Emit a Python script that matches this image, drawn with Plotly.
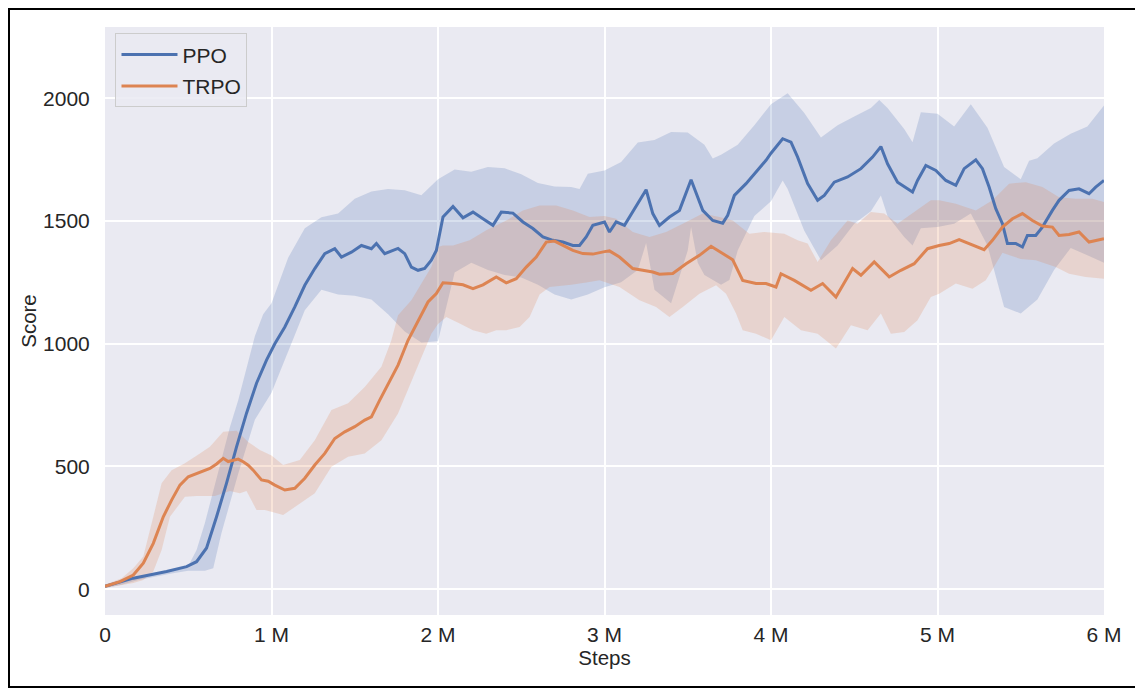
import plotly.graph_objects as go

# steps are in millions
ppo_x = [0, 0.17, 0.37, 0.49, 0.55, 0.61, 0.67, 0.73, 0.79, 0.85, 0.91, 0.97, 1.02, 1.08,
         1.14, 1.20, 1.26, 1.32, 1.38, 1.42, 1.48, 1.54, 1.60, 1.63, 1.68, 1.76, 1.80, 1.84,
         1.88, 1.92, 1.96, 1.99, 2.03, 2.09, 2.15, 2.21, 2.27, 2.33, 2.38, 2.45, 2.51, 2.57,
         2.63, 2.69, 2.75, 2.81, 2.85, 2.89, 2.93, 3.00, 3.03, 3.07, 3.12, 3.19, 3.25, 3.29,
         3.33, 3.39, 3.45, 3.52, 3.56, 3.59, 3.65, 3.71, 3.74, 3.78, 3.85, 3.91, 3.97, 4.00,
         4.07, 4.12, 4.16, 4.22, 4.28, 4.32, 4.38, 4.46, 4.54, 4.61, 4.66, 4.70, 4.76, 4.85,
         4.88, 4.93, 4.99, 5.05, 5.11, 5.16, 5.23, 5.27, 5.31, 5.35, 5.39, 5.42, 5.47, 5.51,
         5.54, 5.59, 5.63, 5.69, 5.73, 5.79, 5.85, 5.91, 5.95, 6.0]
ppo_mean = [12, 45, 72, 92, 112, 168, 295, 432, 580, 717, 839, 933, 1000, 1068,
            1150, 1238, 1306, 1367, 1387, 1353, 1373, 1400, 1387, 1408, 1367, 1388, 1367, 1312,
            1299, 1307, 1340, 1380, 1516, 1559, 1513, 1536, 1509, 1482, 1536, 1532, 1496, 1469,
            1435, 1421, 1414, 1400, 1400, 1435, 1482, 1496, 1455, 1496, 1482, 1563, 1627, 1530,
            1482, 1516, 1543, 1668, 1597, 1543, 1502, 1491, 1523, 1604, 1652, 1699, 1747, 1776,
            1835, 1821, 1760, 1652, 1584, 1604, 1658, 1679, 1713, 1760, 1803, 1733, 1658, 1618,
            1665, 1726, 1706, 1665, 1645, 1713, 1749, 1713, 1638, 1550, 1489, 1408, 1408, 1394,
            1441, 1441, 1475, 1543, 1584, 1624, 1631, 1611, 1638, 1665]

ppo_upper_x = [0, 0.1, 0.2, 0.3, 0.4, 0.5, 0.55, 0.6, 0.65, 0.7, 0.75, 0.8, 0.85, 0.9, 0.95,
               1.0, 1.1, 1.2, 1.3, 1.4, 1.5, 1.6, 1.7, 1.8, 1.9, 2.0, 2.1, 2.2, 2.3, 2.4, 2.5,
               2.6, 2.7, 2.8, 2.85, 2.9, 3.0, 3.1, 3.2, 3.3, 3.4, 3.5, 3.6, 3.65, 3.7, 3.8,
               3.9, 4.0, 4.1, 4.2, 4.3, 4.4, 4.5, 4.6, 4.65, 4.7, 4.8, 4.85, 4.9, 5.0, 5.1,
               5.2, 5.3, 5.4, 5.5, 5.55, 5.6, 5.7, 5.8, 5.9, 6.0]
ppo_upper = [20, 32, 52, 65, 78, 95, 160, 270, 400, 540, 660, 770, 905, 1030, 1120,
             1165, 1350, 1470, 1515, 1530, 1590, 1620, 1630, 1625, 1605, 1670, 1710, 1700, 1720,
             1715, 1690, 1655, 1640, 1638, 1630, 1692, 1705, 1740, 1820, 1830, 1862, 1860, 1810,
             1754, 1770, 1810, 1890, 1975, 2020, 1940, 1840, 1890, 1925, 1960, 1993, 1960, 1875,
             1821, 1943, 1937, 1885, 1975, 1880, 1720, 1670, 1745, 1755, 1815, 1855, 1885, 1970]

ppo_lower_x = [0, 0.1, 0.2, 0.3, 0.4, 0.5, 0.6, 0.65, 0.7, 0.8, 0.9, 1.0, 1.1, 1.2, 1.3, 1.4,
               1.5, 1.6, 1.7, 1.8, 1.9, 2.0, 2.1, 2.2, 2.3, 2.4, 2.5, 2.6, 2.7, 2.8, 2.9, 3.0,
               3.1, 3.2, 3.25, 3.3, 3.4, 3.5, 3.52, 3.56, 3.6, 3.7, 3.75, 3.8, 3.9, 4.0, 4.07,
               4.1, 4.2, 4.3, 4.4, 4.5, 4.6, 4.66, 4.7, 4.8, 4.85, 4.9, 5.0, 5.1, 5.2, 5.3, 5.4,
               5.5, 5.6, 5.7, 5.8, 5.9, 6.0]
ppo_lower = [5, 18, 38, 52, 64, 75, 75, 85, 230, 470, 690, 800, 970, 1136, 1220, 1200,
             1195, 1180, 1120, 1050, 1005, 1010, 1290, 1330, 1300, 1280, 1270, 1240, 1200, 1180,
             1200, 1230, 1250, 1300, 1410, 1220, 1165, 1380, 1475, 1330, 1280, 1240, 1260, 1380,
             1520, 1580, 1665, 1630, 1460, 1340, 1400, 1489, 1540, 1604, 1520, 1435, 1400, 1470,
             1475, 1489, 1530, 1400, 1150, 1123, 1180, 1300, 1390, 1360, 1330]

trpo_x = [0, 0.09, 0.17, 0.23, 0.29, 0.35, 0.40, 0.45, 0.50, 0.57, 0.63, 0.67, 0.71, 0.74,
          0.77, 0.80, 0.83, 0.86, 0.89, 0.94, 0.98, 1.02, 1.08, 1.14, 1.20, 1.26, 1.32, 1.38,
          1.44, 1.50, 1.56, 1.60, 1.65, 1.70, 1.76, 1.82, 1.88, 1.94, 1.99, 2.03, 2.09, 2.15,
          2.21, 2.27, 2.35, 2.41, 2.47, 2.53, 2.59, 2.65, 2.70, 2.75, 2.81, 2.87, 2.93, 3.0,
          3.03, 3.09, 3.17, 3.23, 3.29, 3.33, 3.41, 3.49, 3.57, 3.64, 3.71, 3.77, 3.83, 3.91,
          3.97, 4.03, 4.06, 4.14, 4.24, 4.31, 4.39, 4.44, 4.49, 4.54, 4.62, 4.71, 4.78, 4.86,
          4.94, 5.01, 5.07, 5.13, 5.19, 5.28, 5.33, 5.39, 5.45, 5.51, 5.57, 5.63, 5.69, 5.73,
          5.79, 5.85, 5.91, 6.0]
trpo_mean = [12, 31, 58, 106, 187, 295, 363, 424, 458, 478, 492, 510, 533, 520,
             526, 530, 519, 505, 485, 445, 440, 424, 404, 411, 452, 506, 553, 614,
             641, 662, 689, 702, 770, 838, 913, 1014, 1089, 1170, 1204, 1248, 1245, 1240,
             1224, 1240, 1272, 1248, 1265, 1312, 1353, 1414, 1418, 1400, 1380, 1367, 1365, 1375,
             1378, 1353, 1306, 1299, 1292, 1283, 1286, 1326, 1360, 1397, 1367, 1342, 1258, 1245,
             1245, 1231, 1285, 1258, 1218, 1245, 1190, 1251, 1306, 1279, 1333, 1272, 1299, 1326,
             1387, 1400, 1408, 1424, 1408, 1383, 1421, 1475, 1509, 1530, 1502, 1479, 1475, 1441,
             1445, 1455, 1414, 1428]

trpo_upper_x = [0, 0.1, 0.17, 0.23, 0.29, 0.34, 0.40, 0.48, 0.57, 0.63, 0.71, 0.79, 0.86,
                0.93, 1.0, 1.07, 1.17, 1.26, 1.36, 1.46, 1.56, 1.66, 1.72, 1.76, 1.84, 1.96,
                2.0, 2.03, 2.09, 2.19, 2.29, 2.41, 2.51, 2.61, 2.71, 2.81, 2.91, 3.0, 3.07,
                3.17, 3.27, 3.37, 3.47, 3.59, 3.69, 3.77, 3.87, 3.96, 4.08, 4.16, 4.22, 4.28,
                4.36, 4.46, 4.52, 4.60, 4.68, 4.76, 4.86, 4.96, 5.01, 5.11, 5.23, 5.33, 5.43,
                5.53, 5.63, 5.73, 5.83, 5.93, 6.0]
trpo_upper = [18, 45, 85, 133, 295, 432, 485, 513, 553, 580, 641, 645, 600,
              567, 545, 506, 526, 607, 730, 757, 824, 906, 1014, 1116, 1177, 1312,
              1394, 1400, 1400, 1421, 1462, 1502, 1543, 1563, 1563, 1543, 1516, 1520, 1509,
              1455, 1435, 1455, 1489, 1530, 1516, 1502, 1448, 1455, 1448, 1421, 1408, 1333,
              1421, 1502, 1489, 1536, 1530, 1489, 1536, 1584, 1584, 1570, 1543, 1584, 1652,
              1658, 1638, 1597, 1590, 1590, 1577]

trpo_lower_x = [0, 0.17, 0.23, 0.29, 0.34, 0.39, 0.48, 0.55, 0.66, 0.75, 0.81, 0.85, 0.91,
                0.96, 1.07, 1.14, 1.26, 1.36, 1.46, 1.56, 1.66, 1.76, 1.86, 1.96, 2.0, 2.05,
                2.13, 2.21, 2.29, 2.35, 2.41, 2.49, 2.55, 2.61, 2.67, 2.8, 2.9, 2.97, 3.09,
                3.21, 3.31, 3.39, 3.47, 3.57, 3.67, 3.73, 3.79, 3.83, 3.91, 4.0, 4.08, 4.18,
                4.28, 4.39, 4.48, 4.58, 4.66, 4.72, 4.80, 4.88, 4.96, 5.01, 5.11, 5.21, 5.29,
                5.39, 5.5, 5.59, 5.71, 5.79, 5.89, 6.0]
trpo_lower = [5, 25, 38, 72, 160, 295, 377, 380, 380, 400, 391, 400, 323,
              323, 302, 336, 391, 499, 540, 553, 607, 716, 879, 1041, 1080, 1109,
              1082, 1055, 1041, 1055, 1055, 1068, 1109, 1200, 1231, 1240, 1250, 1258, 1231,
              1177, 1150, 1109, 1150, 1204, 1238, 1204, 1123, 1055, 1041, 1014, 1109, 1055,
              1041, 980, 1075, 1055, 1123, 1041, 1048, 1096, 1190, 1204, 1245, 1224, 1258,
              1370, 1345, 1340, 1312, 1285, 1272, 1265]

x_ticks = [0, 1, 2, 3, 4, 5, 6]
x_tick_labels = ["0", "1 M", "2 M", "3 M", "4 M", "5 M", "6 M"]
y_ticks = [0, 500, 1000, 1500, 2000]

BLUE = "#4C72B0"
ORANGE = "#DD8452"
FONT = "Liberation Sans, Arial, sans-serif"

fig = go.Figure()


def add_band(upper_x, upper, lower_x, lower, color):
    fig.add_trace(
        go.Scatter(
            x=list(upper_x) + list(reversed(lower_x)),
            y=list(upper) + list(reversed(lower)),
            fill="toself",
            fillcolor=color,
            line=dict(width=0),
            mode="lines",
            hoverinfo="skip",
            showlegend=False,
        )
    )


add_band(ppo_upper_x, ppo_upper, ppo_lower_x, ppo_lower, "rgba(76,114,176,0.22)")
add_band(trpo_upper_x, trpo_upper, trpo_lower_x, trpo_lower, "rgba(221,132,82,0.22)")

fig.add_trace(
    go.Scatter(x=ppo_x, y=ppo_mean, mode="lines", name="PPO",
               line=dict(color=BLUE, width=3), legendgroup="ppo")
)
fig.add_trace(
    go.Scatter(x=trpo_x, y=trpo_mean, mode="lines", name="TRPO",
               line=dict(color=ORANGE, width=3), legendgroup="trpo")
)

# black frame around the whole picture (page has an 8px body margin)
fig.add_shape(
    type="rect", xref="paper", yref="paper",
    x0=-0.0961, x1=1.0360, y0=-0.1224, y1=1.0306,
    line=dict(color="black", width=2), fillcolor="rgba(0,0,0,0)", layer="above",
)

fig.update_layout(
    width=1135,
    height=680,
    margin=dict(l=97, r=39, t=19, b=73),
    paper_bgcolor="white",
    plot_bgcolor="#EAEAF2",
    font=dict(family=FONT, size=21, color="#262626"),
    showlegend=True,
    legend=dict(
        x=0.0105, y=0.989, xanchor="left", yanchor="top",
        bgcolor="rgba(234,234,242,0.85)",
        bordercolor="#CCCCCC", borderwidth=1,
        font=dict(size=21),
        tracegroupgap=1,
        itemwidth=56,
    ),
    xaxis=dict(
        range=[0, 6],
        tickvals=x_ticks,
        ticktext=x_tick_labels,
        showgrid=True, gridcolor="white", gridwidth=1.5,
        zeroline=False, showline=False,
        ticks="outside", ticklen=1, tickcolor="rgba(0,0,0,0)",
        title=dict(text="Steps", font=dict(size=20.5), standoff=2),
    ),
    yaxis=dict(
        range=[-105, 2290],
        tickvals=y_ticks,
        showgrid=True, gridcolor="white", gridwidth=1.5,
        zeroline=False, showline=False,
        ticks="outside", ticklen=10, tickcolor="rgba(0,0,0,0)",
        title=dict(text="Score", font=dict(size=20.5), standoff=0),
    ),
)

fig.write_html("out.html")
